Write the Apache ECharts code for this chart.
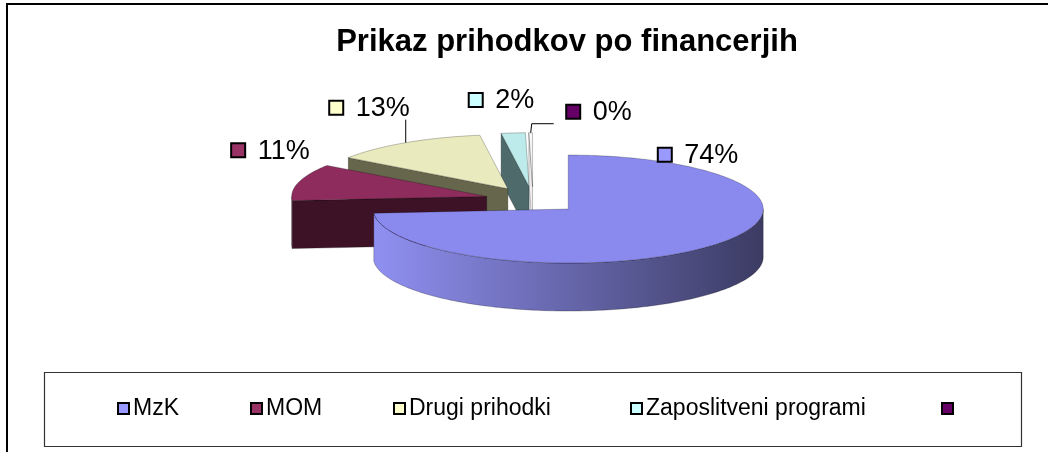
<!DOCTYPE html>
<html>
<head>
<meta charset="utf-8">
<script src="https://cdn.jsdelivr.net/npm/echarts@6/dist/echarts.min.js"></script>
<style>
html,body{margin:0;padding:0;background:#fff}
#chart{width:1048px;height:452px}
</style>
</head>
<body>
<div id="chart"></div>
<script>
// podatki
var categories = ['MzK', 'MOM', 'Drugi prihodki', 'Zaposlitveni programi', ''];
var values = [74, 11, 13, 2, 0.3];

// barve
var legendColors = ['#9999FF', '#993366', '#FFFFCC', '#CCFFFF', '#660066'];
var topColors = ['#8a8aee', '#8e2c5e', '#eaeabf', '#bdeaea', '#f6f6f6'];
var wallLight = ['#9090f2', '#7e2852', '#d8d8ac', '#a8d4d4', '#e8e8e8'];
var wallDark = ['#3b3b63', '#3e1226', '#66664c', '#4e6a6a', '#cfcfcf'];
var faceColors = ['#3b3b63', '#3e1226', '#66664c', '#4e6a6a', '#eeeeee'];

// postavitev
var CX = 533, CY = 200, RX = 195, RY = 54, DEPTH = 48, EXPLODE = 48;
var labelNudge = [[-54, -91], [-68, -32], [-77, -35], [-45, -33], [35, -21]];
var labelLeader = [false, false, true, false, true];
var legendLeft = [117, 250, 393, 630, 941];

var total = 0;
for (var i = 0; i < values.length; i++) total += values[i];

function sliceInfo(idx) {
  var a = 0;
  for (var j = 0; j < idx; j++) a += values[j] / total * Math.PI * 2;
  var a1 = a + values[idx] / total * Math.PI * 2;
  var mid = (a + a1) / 2;
  var ox = EXPLODE * Math.sin(mid);
  var oy = -EXPLODE * Math.cos(mid) * RY / RX;
  return {a0: a, a1: a1, mid: mid, cx: CX + ox, cy: CY + oy};
}

function rim(s, a, dy) {
  return [s.cx + RX * Math.sin(a), s.cy - RY * Math.cos(a) + (dy || 0)];
}

function arc(s, a0, a1, dy) {
  var n = Math.max(2, Math.ceil(Math.abs(a1 - a0) / 0.02));
  var pts = [];
  for (var k = 0; k <= n; k++) pts.push(rim(s, a0 + (a1 - a0) * k / n, dy));
  return pts;
}

var edge = {stroke: 'rgba(0,0,0,0.35)', lineWidth: 0.7};

function sliceRenderer(idx) {
  return function (params, api) {
    var s = sliceInfo(idx);
    var apex = [s.cx, s.cy];
    var apexB = [s.cx, s.cy + DEPTH];
    var kids = [];
    // rezne ploskve
    if (Math.sin(s.a0) < -1e-6) {
      kids.push({type: 'polygon', shape: {points: [apex, rim(s, s.a0), rim(s, s.a0, DEPTH), apexB]},
        style: Object.assign({fill: faceColors[idx]}, edge)});
    }
    if (Math.sin(s.a1) > 1e-6) {
      kids.push({type: 'polygon', shape: {points: [apex, rim(s, s.a1), rim(s, s.a1, DEPTH), apexB]},
        style: Object.assign({fill: faceColors[idx]}, edge)});
    }
    // stena
    var b0 = Math.max(s.a0, Math.PI / 2), b1 = Math.min(s.a1, Math.PI * 1.5);
    if (b1 > b0) {
      var pts = arc(s, b0, b1, 0).concat(arc(s, b1, b0, DEPTH));
      kids.push({type: 'polygon', shape: {points: pts},
        style: Object.assign({fill: new echarts.graphic.LinearGradient(0, 0, 1, 0, [
          {offset: 0, color: wallLight[idx]}, {offset: 1, color: wallDark[idx]}])}, edge)});
    }
    // zgornja ploskev
    kids.push({type: 'polygon', shape: {points: [apex].concat(arc(s, s.a0, s.a1, 0))},
      style: Object.assign({fill: topColors[idx]}, edge)});
    return {type: 'group', children: kids};
  };
}

function labelRenderer(params, api) {
  var idx = params.dataIndex;
  var s = sliceInfo(idx);
  var r = rim(s, s.mid);
  var left = r[0] + labelNudge[idx][0];
  var yc = r[1] + labelNudge[idx][1];
  var pct = Math.round(values[idx] / total * 100) + '%';
  var kids = [
    {type: 'rect', shape: {x: left + 0.5, y: yc - 7, width: 14, height: 14},
      style: {fill: legendColors[idx], stroke: '#000', lineWidth: 2}},
    {type: 'text', x: left + 27, y: yc + 1,
      style: {text: pct, fill: '#000', font: '27px "Liberation Sans", Arial, sans-serif',
        textAlign: 'left', textVerticalAlign: 'middle'}}
  ];
  if (labelLeader[idx]) {
    var pl = [[r[0], r[1]], [r[0] + (left > r[0] ? 1 : 0), yc + 12]];
    if (left > r[0]) pl.push([left - 12, yc + 12]);
    kids.push({type: 'polyline', shape: {points: pl}, style: {stroke: '#000', lineWidth: 1, fill: null}});
  }
  return {type: 'group', children: kids};
}

// vrstni red risanja: zadnje rezine najprej
var series = [];
for (var i = 0; i < values.length; i++) {
  var m = sliceInfo(i).mid;
  series.push({
    type: 'custom',
    name: categories[i] || ' ',
    coordinateSystem: 'none',
    z: 10 + Math.round((1 - Math.cos(m)) * 10),
    itemStyle: {color: legendColors[i]},
    data: [values[i]],
    renderItem: sliceRenderer(i),
    silent: true
  });
}
series.push({
  type: 'custom',
  name: 'labels',
  coordinateSystem: 'none',
  z: 50,
  data: values,
  renderItem: labelRenderer,
  silent: true
});

var legends = [];
for (var i = 0; i < categories.length; i++) {
  legends.push({
    data: [categories[i] || ' '],
    left: legendLeft[i],
    top: 397,
    padding: 0,
    icon: 'rect',
    itemWidth: 11,
    itemHeight: 11,
    itemStyle: {borderColor: '#000', borderWidth: 2},
    selectedMode: false,
    textStyle: {fontFamily: '"Liberation Sans", Arial, sans-serif', fontSize: 23, color: '#000', padding: [0, 0, 0, -1]}
  });
}

var mychart = echarts.init(document.getElementById('chart'));
var option = {
  animation: false,
  backgroundColor: '#fff',
  title: {
    text: 'Prikaz prihodkov po financerjih',
    left: 562,
    top: 37,
    textAlign: 'center',
    textVerticalAlign: 'middle',
    textStyle: {fontFamily: '"Liberation Sans", Arial, sans-serif', fontWeight: 'bold', fontSize: 31, color: '#000'}
  },
  legend: legends,
  graphic: [
    {type: 'rect', z: 0, shape: {x: 7, y: 4, width: 1100, height: 520}, style: {fill: 'none', stroke: '#000', lineWidth: 2}},
    {type: 'rect', z: 0, shape: {x: 44.5, y: 372.5, width: 977, height: 74}, style: {fill: 'none', stroke: '#333', lineWidth: 1.2}}
  ],
  series: series
};
mychart.setOption(option);
</script>
</body>
</html>
